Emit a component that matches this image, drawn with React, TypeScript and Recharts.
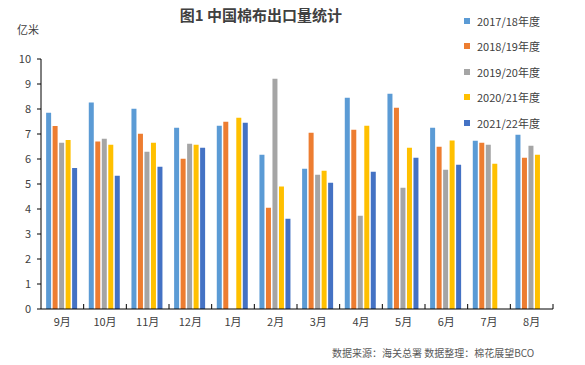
import React from 'react';
import { BarChart, Bar, XAxis, YAxis, Legend } from 'recharts';

const months = ['9月', '10月', '11月', '12月', '1月', '2月', '3月', '4月', '5月', '6月', '7月', '8月'];
const s2017: (number | null)[] = [7.85, 8.26, 8.01, 7.25, 7.33, 6.17, 5.61, 8.45, 8.61, 7.25, 6.73, 6.97];
const s2018: (number | null)[] = [7.32, 6.70, 7.01, 6.01, 7.49, 4.05, 7.05, 7.17, 8.05, 6.49, 6.65, 6.05];
const s2019: (number | null)[] = [6.65, 6.81, 6.29, 6.61, null, 9.21, 5.37, 3.73, 4.85, 5.57, 6.57, 6.53];
const s2020: (number | null)[] = [6.76, 6.57, 6.65, 6.57, 7.65, 4.90, 5.53, 7.33, 6.45, 6.74, 5.81, 6.17];
const s2021: (number | null)[] = [5.64, 5.33, 5.69, 6.45, 7.45, 3.61, 5.05, 5.49, 6.05, 5.77, null, null];
const yTicks = [0, 1, 2, 3, 4, 5, 6, 7, 8, 9, 10];

const seriesNames = ['2017/18年度', '2018/19年度', '2019/20年度', '2020/21年度', '2021/22年度'];
const seriesKeys = ['a', 'b', 'c', 'd', 'e'];
const seriesColors = ['#5B9BD5', '#ED7D31', '#A5A5A5', '#FFC000', '#4472C4'];

const data = months.map((m, i) => ({
  month: m,
  a: s2017[i],
  b: s2018[i],
  c: s2019[i],
  d: s2020[i],
  e: s2021[i],
}));

const W = 585;
const H = 365;
const PLOT_LEFT = 41;
const PLOT_RIGHT = 553;
const BAND = (PLOT_RIGHT - PLOT_LEFT) / months.length;
const FONT = '"Noto Sans CJK SC", "DejaVu Sans", sans-serif';

const XTick = (props: any) => {
  const { x, y, payload } = props;
  const axisY = y - 8;
  return (
    <g>
      <line x1={x + BAND / 2} x2={x + BAND / 2} y1={axisY} y2={axisY - 5} stroke="#000" strokeWidth={1} />
      <text x={x} y={axisY + 17} textAnchor="middle" fontSize={11} fill="#404040" fontFamily={FONT}>
        {payload.value}
      </text>
    </g>
  );
};

const LegendContent = () => (
  <div style={{ fontFamily: FONT, fontSize: 11, color: '#404040' }}>
    {seriesNames.map((n, i) => (
      <div key={n} style={{ display: 'flex', alignItems: 'center', height: 25.5 }}>
        <span style={{ display: 'inline-block', width: 6, height: 6, background: seriesColors[i], marginRight: 7 }} />
        <span>{n}</span>
      </div>
    ))}
  </div>
);

export default function App() {
  return (
    <div style={{ position: 'absolute', left: 0, top: 0, width: W, height: H, background: '#fff' }}>
      <BarChart
        width={W}
        height={H}
        data={data}
        margin={{ top: 59, right: W - PLOT_RIGHT, bottom: 26, left: 0 }}
        barCategoryGap="12%"
        barGap={1.5}
      >
        <text x={261} y={21} textAnchor="middle" fontSize={15} fontWeight="bold" fill="#404040" fontFamily={FONT}>
          图1 中国棉布出口量统计
        </text>
        <text x={17} y={34} fontSize={11} fill="#404040" fontFamily={FONT}>
          亿米
        </text>
        <text x={332} y={357} fontSize={10} fill="#595959" fontFamily={FONT}>
          数据来源：海关总署 数据整理：棉花展望BCO
        </text>
        <XAxis
          dataKey="month"
          height={30}
          axisLine={{ stroke: '#000' }}
          tickLine={false}
          tickSize={0}
          tickMargin={8}
          tick={<XTick />}
          interval={0}
        />
        <YAxis
          width={PLOT_LEFT}
          domain={[0, 10]}
          ticks={yTicks}
          interval={0}
          axisLine={{ stroke: '#000' }}
          tickLine={{ stroke: '#000' }}
          tickSize={4}
          tickMargin={6}
          tick={{ fontSize: 11, fill: '#404040', fontFamily: FONT }}
        />
        <Legend
          layout="vertical"
          verticalAlign="middle"
          align="center"
          content={<LegendContent />}
          wrapperStyle={{ position: 'absolute', left: 464, top: 8, width: 120, height: 130 }}
        />
        {seriesKeys.map((k, i) => (
          <Bar key={k} dataKey={k} name={seriesNames[i]} fill={seriesColors[i]} isAnimationActive={false} />
        ))}
      </BarChart>
    </div>
  );
}
